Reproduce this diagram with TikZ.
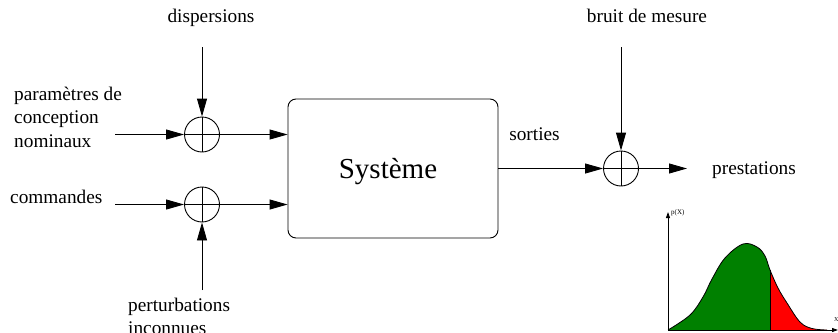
\documentclass[tikz,border=0pt]{standalone}
\usepackage{fontspec}
\setmainfont{Liberation Serif}
\usetikzlibrary{arrows.meta}
\begin{document}
\begin{tikzpicture}[x=1pt,y=-1pt,
  lbl/.style={inner sep=0pt,font=\fontsize{19.3}{23.5}\selectfont},
  sumnode/.style={circle,draw,line width=0.9pt,minimum size=35pt,inner sep=0pt},
  arr/.style={line width=0.9pt,-{Triangle[length=18pt,width=10pt]}},
  smallarr/.style={line width=0.8pt,-{Triangle[length=6pt,width=4pt]}}]
\useasboundingbox (0,0) rectangle (838,332);
% summing junctions
\node[sumnode] (s1) at (202,134.5) {};
\node[sumnode] (s2) at (202,204.5) {};
\node[sumnode] (s3) at (621,168.5) {};
\foreach \s in {s1,s2,s3}{
  \draw[line width=0.9pt] (\s.north) -- (\s.south);
  \draw[line width=0.9pt] (\s.west) -- (\s.east);
}
% system box
\node[draw,line width=0.9pt,rounded corners=8pt,minimum width=210pt,minimum height=139pt,inner sep=0pt] (sys) at (393,168.5) {};
\node[inner sep=0pt,anchor=base,font=\fontsize{29}{34}\selectfont] (systxt) at (388,178) {Système};
% labels
\node[lbl,anchor=base] (disp) at (211,23) {dispersions};
\node[lbl,anchor=base] (bruit) at (647,23) {bruit de mesure};
\node[lbl,anchor=base] (sort) at (534.5,140) {sorties};
\node[lbl,anchor=base west] (prest) at (712,174) {prestations};
\node[lbl,anchor=base west] (comm) at (10,203) {commandes};
\node[lbl,anchor=north west,align=left] (param) at (14,86.8) {paramètres de\\conception\\nominaux};
\node[lbl,anchor=north west,align=left] (pert) at (128,297.8) {perturbations\\inconnues};
% free ends
\coordinate (in1) at (115,134.5);
\coordinate (in2) at (115,204.5);
\coordinate (dtop) at (202,47);
\coordinate (pbot) at (202,290);
\coordinate (btop) at (621,47);
\coordinate (out) at (687,168.5);
% connectors
\draw[arr] (in1) -- (s1.west);
\draw[arr] (in2) -- (s2.west);
\draw[arr] (dtop) -- (s1.north);
\draw[arr] (pbot) -- (s2.south);
\draw[arr] (s1.east) -- (s1.east -| sys.west);
\draw[arr] (s2.east) -- (s2.east -| sys.west);
\draw[arr] (sys.east) -- (s3.west);
\draw[arr] (btop) -- (s3.north);
\draw[arr] (s3.east) -- (out);
% density plot
\def\curve{plot[smooth,tension=0.6] coordinates {(668,330) (690,315) (703,297) (712,279) (725,258) (743,244) (757,247) (765,256) (770,270) (778,288) (787,303) (800,322) (812,328.5) (827,330)}}
\begin{scope}
  \clip (660,200) rectangle (770,335);
  \fill[fill={rgb,255:red,0;green,128;blue,0}] \curve -- cycle;
\end{scope}
\begin{scope}
  \clip (770,200) rectangle (838,335);
  \fill[fill={rgb,255:red,255;green,0;blue,0}] \curve -- cycle;
\end{scope}
\draw[line width=0.8pt] \curve;
\draw[line width=0.8pt] (770,270) -- (770,330);
\coordinate (orig) at (668,330);
\coordinate (ytip) at (668,212);
\coordinate (xtip) at (838,330);
\draw[smallarr] (orig) -- (ytip);
\draw[smallarr] (orig) -- (xtip);
\node[inner sep=0pt,anchor=west,font=\fontsize{7}{8}\selectfont] (px) at (671,213) {p(X)};
\node[inner sep=0pt,anchor=west,font=\fontsize{6}{7}\selectfont] (xl) at (834,320) {X};
\end{tikzpicture}
\end{document}
